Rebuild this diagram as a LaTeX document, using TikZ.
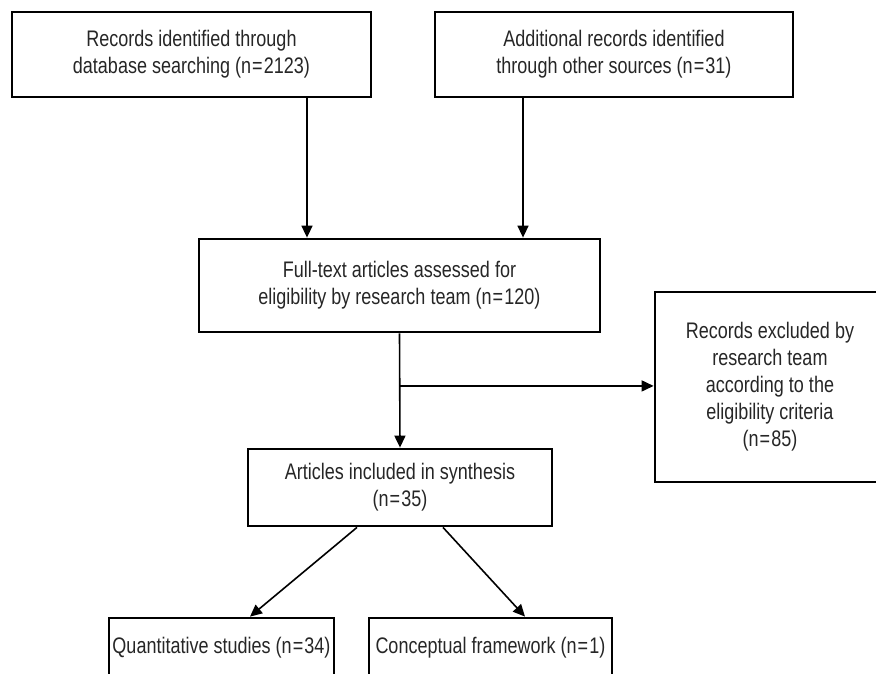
\documentclass[tikz,border=0pt]{standalone}
\usepackage{fontspec}
\setmainfont{Liberation Sans}[FakeStretch=0.8]
\definecolor{inkgray}{HTML}{262626}
\usepackage{tikz}
\usetikzlibrary{arrows.meta,calc}
\newcommand{\eqsign}{\kern1.2pt=\kern1.2pt}

\begin{document}
\begin{tikzpicture}[x=1pt,y=-1pt,
  box/.style={draw=black,line width=2.8pt,inner sep=0pt,align=center,text=inkgray,
    font=\fontsize{22.5}{27}\selectfont},
  arr/.style={-{Triangle[length=12pt,width=11pt]},line width=1.6pt,black}]
  \clip (0,0) rectangle (876,673);
  % identification
  \node[box,minimum width=359pt,minimum height=85pt] (records) at (191.5,54.5)
    {Records identified through\\database searching (n\eqsign2123)};
  \node[box,minimum width=358pt,minimum height=85pt] (other) at (614,54.5)
    {Additional records identified\\through other sources (n\eqsign31)};
  % screening
  \node[box,minimum width=401pt,minimum height=93pt] (assessed) at (399.5,285.5)
    {Full-text articles assessed for\\eligibility by research team (n\eqsign120)};
  \node[box,minimum width=230pt,minimum height=190pt] (excluded) at (770,387)
    {Records excluded by\\research team\\according to the\\eligibility criteria\\(n\eqsign85)};
  % included
  \node[box,minimum width=304pt,minimum height=77pt] (included) at (400,487.5)
    {Articles included in synthesis\\(n\eqsign35)};
  \node[box,minimum width=225pt,minimum height=60pt] (quant) at (221.5,648)
    {Quantitative studies (n\eqsign34)};
  \node[box,minimum width=243pt,minimum height=60pt] (concept) at (490.5,648)
    {Conceptual framework (n\eqsign1)};
  % connectors
  \draw[arr] ([xshift=115.5pt]records.south) -- ([xshift=115.5pt]records.south |- assessed.north);
  \draw[arr] ([xshift=-91pt]other.south) -- ([xshift=-91pt]other.south |- assessed.north);
  \draw[arr] (assessed.south) -- (included.north);
  \coordinate (branch) at ($(assessed.south)!0.46!(included.north)$);
  \draw[arr] (branch) -- (branch -| excluded.west);
  \draw[arr] ([xshift=-43pt]included.south) -- ([xshift=28.5pt]quant.north);
  \draw[arr] ([xshift=43pt]included.south) -- ([xshift=34.5pt]concept.north);
\end{tikzpicture}
\end{document}
